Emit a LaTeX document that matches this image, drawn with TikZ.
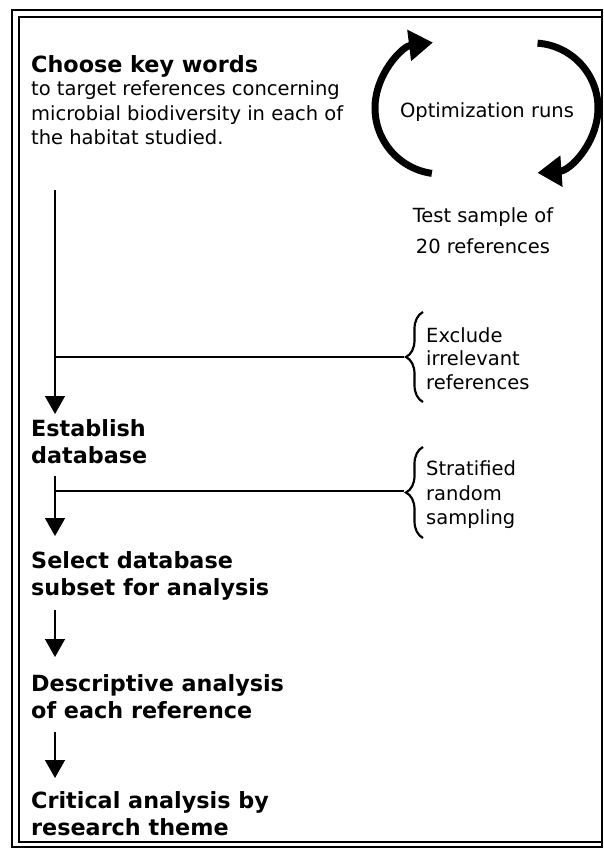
\documentclass[tikz,border=0pt]{standalone}
\usepackage{fontspec}
\setmainfont{DejaVu Sans}
\usetikzlibrary{arrows.meta,decorations.pathreplacing}

\begin{document}
\begin{tikzpicture}[x=1pt,y=-1pt,
  txt/.style={font=\fontsize{19.5}{24}\selectfont,inner sep=0pt},
  head/.style={font=\fontsize{22.3}{27}\selectfont\bfseries,inner sep=0pt},
  flow/.style={line width=1.4pt,-{Triangle[width=20pt,length=18pt]}},
  branch/.style={line width=1.4pt},
  curly/.style={line width=2.2pt,decorate,decoration={brace,amplitude=17pt}},
  cyclearc/.style={line width=7pt,-{Triangle[width=30pt,length=24pt]}}]

\useasboundingbox (0,0) rectangle (603,849);

% double frame (left and top), single at right
\draw [line width=2.4pt] (12,10) rectangle (602,847);
\draw [line width=2.2pt] (19,17) rectangle (602,842);

% key words
\node [head,anchor=base west] (keywords) at (31,72) {Choose key words};
\node [txt,anchor=base west] (target1) at (31,95) {to target references concerning};
\node [txt,anchor=base west] (target2) at (31,120) {microbial biodiversity in each of};
\node [txt,anchor=base west] (target3) at (31,144) {the habitat studied.};

% optimization loop
\draw [cyclearc] (441,108) ++(98:66) arc [start angle=98,end angle=263,radius=66];
\draw [cyclearc] (533,108) ++(-86:65) arc [start angle=-86,end angle=86,radius=65];
\node [txt,anchor=base] (optim) at (487,117) {Optimization runs};
\node [txt,anchor=base] (test1) at (483,222) {Test sample of};
\node [txt,anchor=base] (test2) at (483,253) {20 references};

% steps
\node [head,anchor=base west] (establish1) at (31,436) {Establish};
\node [head,anchor=base west] (establish2) at (31,463) {database};
\node [head,anchor=base west] (select1) at (31,568) {Select database};
\node [head,anchor=base west] (select2) at (31,595) {subset for analysis};
\node [head,anchor=base west] (descr1) at (31,691) {Descriptive analysis};
\node [head,anchor=base west] (descr2) at (31,718) {of each reference};
\node [head,anchor=base west] (crit1) at (31,808) {Critical analysis by};
\node [head,anchor=base west] (crit2) at (31,835) {research theme};

% side remarks
\node [txt,anchor=base west] (excl1) at (426,342) {Exclude};
\node [txt,anchor=base west] (excl2) at (426,365) {irrelevant};
\node [txt,anchor=base west] (excl3) at (426,389) {references};
\node [txt,anchor=base west] (strat1) at (426,475) {Stratified};
\node [txt,anchor=base west] (strat2) at (426,500) {random};
\node [txt,anchor=base west] (strat3) at (426,524) {sampling};

\coordinate (a1top) at (55,190);
\coordinate (a1end) at (55,414);
\coordinate (fork1) at (55,357);
\coordinate (tip1) at (404,357);
\coordinate (b1low) at (423,402);
\coordinate (b1high) at (423,312);
\coordinate (a2top) at (55,476);
\coordinate (a2end) at (55,536);
\coordinate (fork2) at (55,491);
\coordinate (tip2) at (404,491);
\coordinate (b2low) at (423,538);
\coordinate (b2high) at (423,447);
\coordinate (a3top) at (55,610);
\coordinate (a3end) at (55,657);
\coordinate (a4top) at (55,732);
\coordinate (a4end) at (55,778);

\draw [flow] (a1top) -- (a1end);
\draw [branch] (fork1) -- (tip1);
\draw [curly] (b1low) -- (b1high);
\draw [flow] (a2top) -- (a2end);
\draw [branch] (fork2) -- (tip2);
\draw [curly] (b2low) -- (b2high);
\draw [flow] (a3top) -- (a3end);
\draw [flow] (a4top) -- (a4end);
\end{tikzpicture}
\end{document}
